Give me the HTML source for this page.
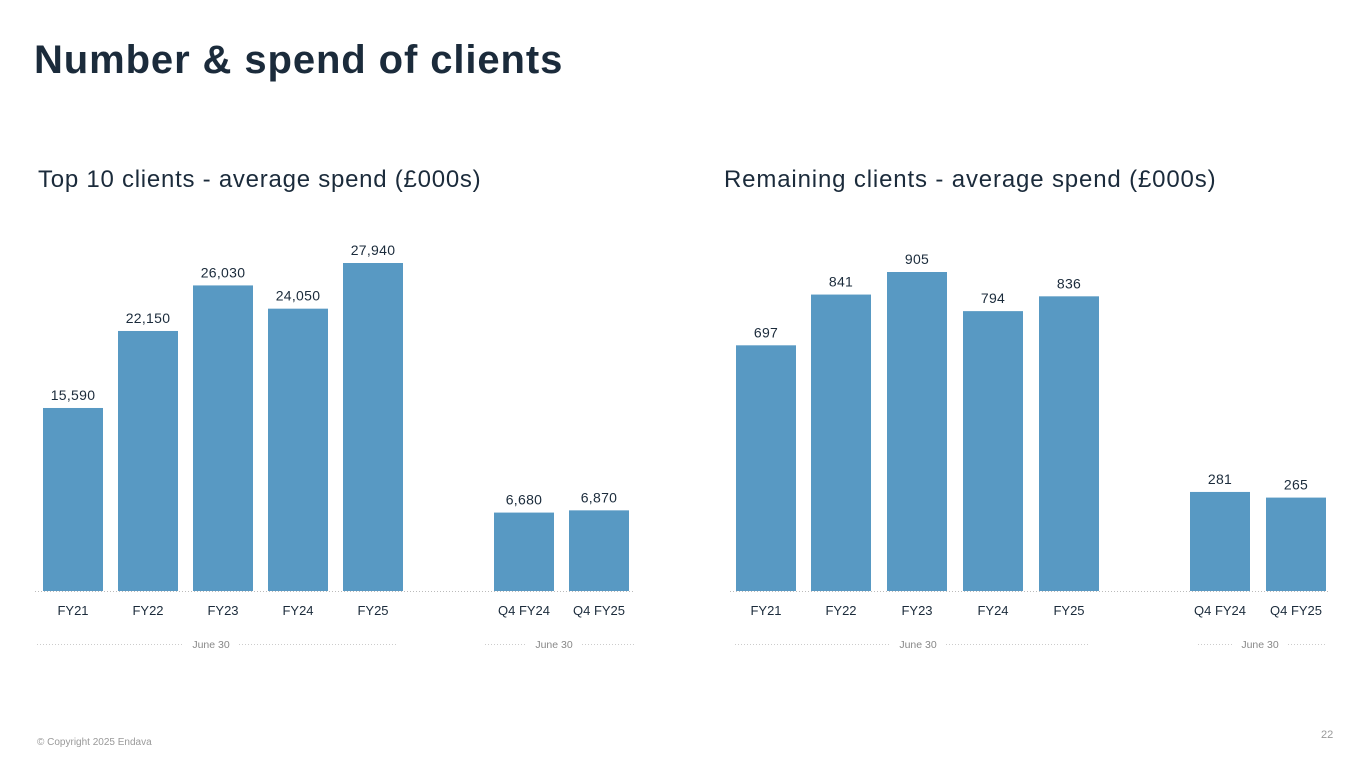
<!DOCTYPE html>
<html><head><meta charset="utf-8"><style>
body{margin:0;width:1365px;height:768px;background:#fff;font-family:"Liberation Sans",sans-serif;overflow:hidden;position:relative}
.t{position:absolute;color:#1b2b3b}
</style></head><body>
<div class="t" style="left:34px;top:38px;font-size:40px;font-weight:600;letter-spacing:0.9px">Number &amp; spend of clients</div>
<div class="t" style="left:38px;top:166px;font-size:24px;letter-spacing:0.75px">Top 10 clients - average spend (£000s)</div>
<div class="t" style="left:724px;top:166px;font-size:24px;letter-spacing:0.85px">Remaining clients - average spend (£000s)</div>
<div class="t" style="left:37px;top:737px;font-size:10px;color:#999">© Copyright 2025 Endava</div>
<div class="t" style="left:1321px;top:729px;font-size:11px;color:#999">22</div>
<svg id="s" width="1365" height="768" style="position:absolute;left:0;top:0"></svg>
<script>
const categories=["FY21","FY22","FY23","FY24","FY25","Q4 FY24","Q4 FY25"];
const leftValues=[15590,22150,26030,24050,27940,6680,6870];
const rightValues=[697,841,905,794,836,281,265];
const svg=document.getElementById('s');
const NS='http://www.w3.org/2000/svg';
function mk(t,a){const e=document.createElementNS(NS,t);for(const k in a)e.setAttribute(k,a[k]);svg.appendChild(e);return e;}
function fmt(v){return v.toLocaleString('en-US');}
function chart(name,vals,xs,maxVal,maxH,x0,x1,grp){
  const base=591;
  const y=v=>base-v/maxVal*maxH;
  const bl=mk('line',{x1:x0,x2:x1,y1:base+0.5,y2:base+0.5,stroke:'#bbb','stroke-dasharray':'1 2'});
  
  
  vals.forEach((v,i)=>{
    const r=mk('rect',{x:xs[i],y:y(v),width:60,height:base-y(v),fill:'#5899c3'});
    
    
    const t=mk('text',{x:xs[i]+30,y:y(v)-8,'text-anchor':'middle','font-size':14,fill:'#1b2b3b','letter-spacing':'0.3'});t.textContent=fmt(v);
    
    
    const c=mk('text',{x:xs[i]+30,y:615,'text-anchor':'middle','font-size':13,fill:'#1b2b3b'});c.textContent=categories[i];
    
    
  });
  grp.forEach(g=>{
    const a=mk('line',{x1:g[0],x2:g[1]-28,y1:644.5,y2:644.5,stroke:'#ccc','stroke-dasharray':'1 2'});
    
    
    const b=mk('line',{x1:g[1]+28,x2:g[2],y1:644.5,y2:644.5,stroke:'#ccc','stroke-dasharray':'1 2'});
    
    
    const t=mk('text',{x:g[1],y:648,'text-anchor':'middle','font-size':10.5,fill:'#888'});t.textContent='June 30';
    
    
  });
}
chart('left',leftValues,[43,118,193,268,343,494,569],27940,328,35,635,[[37,211,398],[485,554,635]]);
chart('right',rightValues,[736,811,887,963,1039,1190,1266],905,319,730,1330,[[735,918,1090],[1198,1260,1327]]);
</script>
</body></html>
